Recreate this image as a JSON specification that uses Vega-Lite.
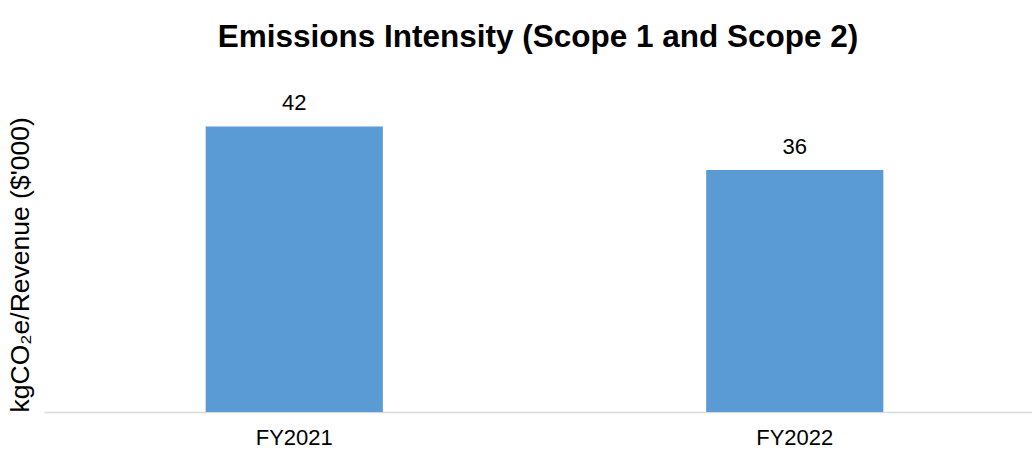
{
  "$schema": "https://vega.github.io/schema/vega-lite/v6.json",
  "autosize": {"type": "none"},
  "width": 988,
  "height": 340,
  "padding": {"left": 44, "top": 72, "right": 0, "bottom": 38},
  "background": "white",
  "config": {"view": {"stroke": null}, "font": "Liberation Sans"},
  "title": {
    "text": "Emissions Intensity (Scope 1 and Scope 2)",
    "font": "Liberation Sans",
    "fontSize": 31.5,
    "fontWeight": "bold",
    "color": "#000000",
    "anchor": "middle",
    "baseline": "alphabetic",
    "offset": -6
  },
  "data": {
    "values": [
      {"year": "FY2021", "value": 42},
      {"year": "FY2022", "value": 35.6}
    ]
  },
  "encoding": {
    "x": {
      "field": "year",
      "type": "nominal",
      "sort": null,
      "scale": {"paddingInner": 0.646, "paddingOuter": 0.31, "align": 0.521},
      "axis": {
        "title": null,
        "labelAngle": 0,
        "labelFont": "Liberation Sans",
        "labelFontSize": 22,
        "labelColor": "#000000",
        "labelPadding": 15,
        "ticks": false,
        "domainColor": "#D9D9D9",
        "domainWidth": 1.5
      }
    },
    "y": {
      "field": "value",
      "type": "quantitative",
      "scale": {"domain": [0, 50]},
      "axis": {
        "title": "kgCO₂e/Revenue ($'000)",
        "titleFont": "Liberation Sans",
        "titleFontSize": 26.5,
        "titleFontWeight": "normal",
        "titleColor": "#000000",
        "titleAnchor": "start",
        "titlePadding": 10,
        "labels": false,
        "ticks": false,
        "domain": false,
        "grid": false
      }
    }
  },
  "layer": [
    {"mark": {"type": "bar", "color": "#5B9BD5"}},
    {
      "mark": {"type": "text", "baseline": "alphabetic", "dy": -16, "fontSize": 22, "font": "Liberation Sans", "color": "#000000"},
      "encoding": {"text": {"field": "value", "type": "quantitative", "format": ".0f"}}
    }
  ]
}
